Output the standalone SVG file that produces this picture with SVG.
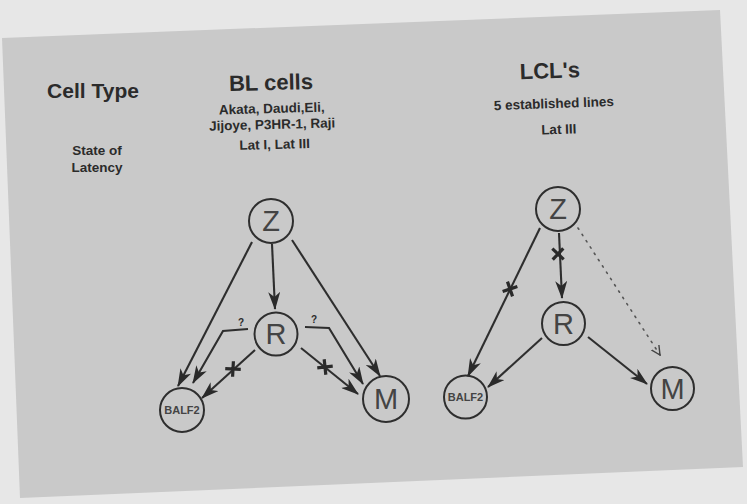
<svg xmlns="http://www.w3.org/2000/svg" xmlns:xlink="http://www.w3.org/1999/xlink" width="747" height="504" viewBox="0 0 747 504">
  <style>
    .title { font-family: "Liberation Sans", Arial, sans-serif; font-weight: bold; fill: #2b2b2b; text-anchor: middle; }
    .sub { font-family: "Liberation Sans", Arial, sans-serif; font-weight: bold; fill: #2b2b2b; text-anchor: middle; font-size: 13.5px; }
    .node circle { fill: none; stroke: #2e2e2e; stroke-width: 2; }
    .node text { font-family: "Liberation Sans", Arial, sans-serif; fill: #444; text-anchor: middle; }
    .big { font-size: 29px; }
    .small { font-size: 11px; font-weight: bold; fill: #2b2b2b; }
    .edge { fill: none; stroke: #2e2e2e; stroke-width: 2.1; }
    .dotted { fill: none; stroke: #555; stroke-width: 1.6; stroke-dasharray: 1.5 6; stroke-linecap: round; }
    .q { font-family: "Liberation Sans", Arial, sans-serif; font-weight: bold; font-size: 10px; fill: #2b2b2b; text-anchor: middle; }
  </style>
  <defs>
    <marker id="head" viewBox="0 0 18 12" refX="17" refY="6" markerWidth="18" markerHeight="12" markerUnits="userSpaceOnUse" orient="auto">
      <path d="M0,0 L18,6 L0,12 L5,6 z" fill="#2a2a2a"/>
    </marker>
    <marker id="open" viewBox="0 0 10 10" refX="9" refY="5" markerWidth="10" markerHeight="10" markerUnits="userSpaceOnUse" orient="auto">
      <path d="M0,0.5 L9,5 L0,9.5" fill="none" stroke="#444" stroke-width="1.4"/>
    </marker>
    <!-- block mark drawn across an arrow -->
    <g id="xmark">
      <path d="M-5.5,-5.5 L5.5,5.5 M-5.5,5.5 L5.5,-5.5" stroke="#2a2a2a" stroke-width="3.2" stroke-linecap="butt"/>
    </g>
  </defs>

  <!-- page and slide -->
  <rect width="747" height="504" fill="#e7e7e7"/>
  <polygon points="2,38 720,10 743,467 20,498" fill="#c9c9c9"/>

  <!-- headings -->
  <g id="col-celltype">
    <text class="title" x="93" y="98" font-size="21">Cell Type</text>
    <text class="sub" x="97" y="155">State of</text>
    <text class="sub" x="97" y="172">Latency</text>
  </g>
  <g id="col-bl" transform="rotate(-1.5 272 120)">
    <text class="title" x="272" y="90" font-size="22">BL cells</text>
    <text class="sub" x="272" y="113">Akata, Daudi,Eli,</text>
    <text class="sub" x="272" y="129">Jijoye, P3HR-1, Raji</text>
    <text class="sub" x="274" y="149">Lat I, Lat III</text>
  </g>
  <g id="col-lcl" transform="rotate(-2 555 105)">
    <text class="title" x="551" y="78" font-size="22">LCL's</text>
    <text class="sub" x="554" y="108" font-size="14">5 established lines</text>
    <text class="sub" x="558" y="134" font-size="12.5">Lat III</text>
  </g>

  <!-- connectors -->
  <g id="connectors">
    <!-- BL cells -->
    <line class="edge" x1="272" y1="244" x2="275" y2="309" marker-end="url(#head)"/>
    <line class="edge" x1="252" y1="242" x2="178" y2="386" marker-end="url(#head)"/>
    <line class="edge" x1="292" y1="240" x2="380" y2="376" marker-end="url(#head)"/>
    <polyline class="edge" points="248,329 223,331 193,383" marker-end="url(#head)"/>
    <text class="q" x="241" y="326">?</text>
    <polyline class="edge" points="305,327 329,328 363,384" marker-end="url(#head)"/>
    <text class="q" x="314" y="323">?</text>
    <line class="edge" x1="255" y1="350" x2="202" y2="398" marker-end="url(#head)"/>
    <use xlink:href="#xmark" transform="translate(233 369) rotate(138)"/>
    <line class="edge" x1="301" y1="348" x2="358" y2="394" marker-end="url(#head)"/>
    <use xlink:href="#xmark" transform="translate(325 367) rotate(39)"/>

    <!-- LCL's -->
    <line class="edge" x1="559" y1="233" x2="562" y2="298" marker-end="url(#head)"/>
    <use xlink:href="#xmark" transform="translate(558 254) rotate(88)"/>
    <line class="edge" x1="540" y1="228" x2="468" y2="376" marker-end="url(#head)"/>
    <use xlink:href="#xmark" transform="translate(510 289) rotate(116)"/>
    <line class="dotted" x1="578" y1="228" x2="660" y2="355" marker-end="url(#open)"/>
    <line class="edge" x1="542" y1="338" x2="488" y2="387" marker-end="url(#head)"/>
    <line class="edge" x1="588" y1="337" x2="647" y2="384" marker-end="url(#head)"/>
  </g>

  <!-- nodes: BL cells -->
  <g id="bl-z" class="node">
    <circle cx="271" cy="221" r="22"/>
    <text class="big" x="271" y="231">Z</text>
  </g>
  <g id="bl-r" class="node">
    <circle cx="276" cy="334" r="21.5"/>
    <text class="big" x="276" y="344">R</text>
  </g>
  <g id="bl-balf2" class="node">
    <circle cx="182" cy="410" r="22"/>
    <text class="small" x="182" y="414">BALF2</text>
  </g>
  <g id="bl-m" class="node">
    <circle cx="386" cy="399" r="23"/>
    <text class="big" x="386" y="409">M</text>
  </g>

  <!-- nodes: LCL's -->
  <g id="lcl-z" class="node">
    <circle cx="558" cy="209" r="22"/>
    <text class="big" x="558" y="219">Z</text>
  </g>
  <g id="lcl-r" class="node">
    <circle cx="563.5" cy="323.5" r="21.5"/>
    <text class="big" x="563.5" y="333.5">R</text>
  </g>
  <g id="lcl-balf2" class="node">
    <circle cx="465.5" cy="397" r="21.5"/>
    <text class="small" x="465.5" y="401">BALF2</text>
  </g>
  <g id="lcl-m" class="node">
    <circle cx="672.5" cy="388.5" r="21.5"/>
    <text class="big" x="672.5" y="398.5">M</text>
  </g>
</svg>
